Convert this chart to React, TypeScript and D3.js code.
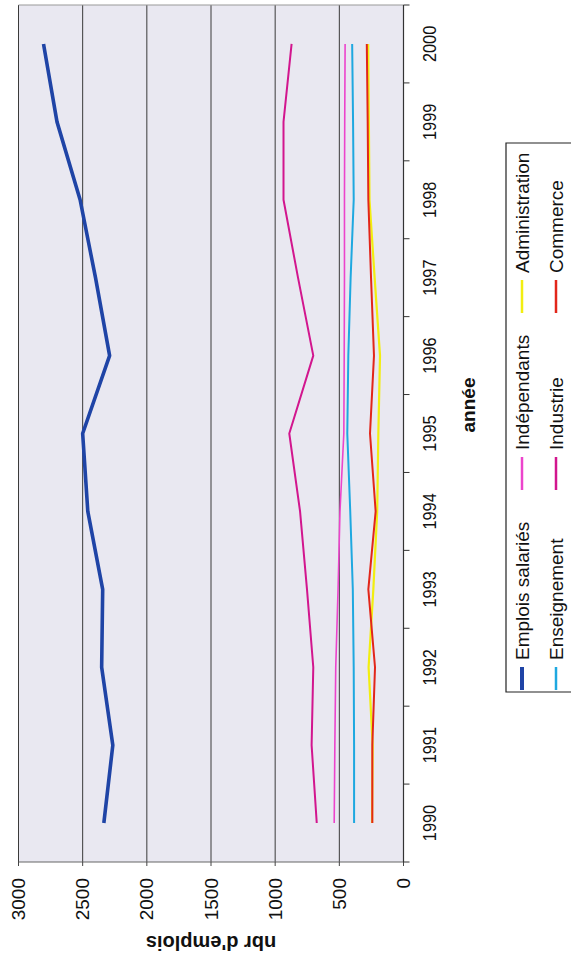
import React from "react";
import * as d3 from "d3";

// Employment by sector, 1990-2000
const years = [1990, 1991, 1992, 1993, 1994, 1995, 1996, 1997, 1998, 1999, 2000];
const emploisSalaries = [2335, 2265, 2352, 2344, 2460, 2500, 2290, 2400, 2520, 2700, 2805];
const independants = [540, 535, 528, 510, 495, 465, 462, 460, 460, 458, 455];
const administration = [245, 240, 272, 235, 205, 196, 183, 225, 265, 270, 275];
const enseignement = [385, 385, 388, 395, 415, 438, 430, 412, 388, 393, 400];
const industrie = [676, 716, 703, 752, 806, 890, 703, 822, 935, 935, 872];
const commerce = [243, 243, 222, 274, 217, 261, 230, 253, 274, 279, 286];
const valueTicks = [0, 500, 1000, 1500, 2000, 2500, 3000];

const seriesNames = [
  "Emplois salariés",
  "Indépendants",
  "Administration",
  "Enseignement",
  "Industrie",
  "Commerce",
];
const seriesValues = [emploisSalaries, independants, administration, enseignement, industrie, commerce];
const seriesColors = ["#1f44a6", "#ec44cc", "#f2ee10", "#1ea8e0", "#d2168e", "#e2261a"];
const seriesWidths = [3.6, 1.6, 2.2, 2, 2, 2];

// legend layout: three columns, two rows (row-major order)
const legendRows = [0, 0, 0, 1, 1, 1];
const legendCols = [0, 1, 2, 0, 1, 2];

const W = 571;
const H = 957;
const font = "'Liberation Sans', Arial, Helvetica, sans-serif";

export default function App() {
  // Chart is laid out in a landscape frame (width = H, height = W) and turned a quarter turn.
  const plotLeft = 95;
  const plotRight = 952;
  const plotTop = 18.5;
  const plotBottom = 403.5;

  const x = d3.scaleBand<number>().domain(years).range([plotLeft, plotRight]).paddingInner(0).paddingOuter(0);
  const cx = (yr: number) => (x(yr) as number) + x.bandwidth() / 2;
  const y = d3.scaleLinear().domain([0, 3000]).range([plotBottom, plotTop]);

  const line = d3
    .line<number>()
    .x((_, i) => cx(years[i]))
    .y((v) => y(v));

  const boundaries = d3.range(years.length + 1).map((k) => plotLeft + k * x.step());

  const legendX0 = 265;
  const legendX1 = 814;
  const legendY0 = 506;
  const colX = [267, 467, 644];
  const markerLen = [23, 33, 33];
  const rowY = [522, 556];

  return (
    <div style={{ position: "absolute", left: 0, top: 0 }}>
      <svg width={W} height={H} style={{ display: "block", background: "#ffffff" }}>
        <g transform={`translate(0,${H}) rotate(-90)`} fontFamily={font}>
          {/* plot area */}
          <rect x={plotLeft} y={plotTop} width={plotRight - plotLeft} height={plotBottom - plotTop} fill="#e9e8f1" />
          {valueTicks.map((v) => (
            <line
              key={"g" + v}
              x1={plotLeft}
              x2={plotRight}
              y1={y(v)}
              y2={y(v)}
              stroke={v === 0 ? "#555" : "#3a3a3a"}
              strokeWidth={1}
            />
          ))}
          <line x1={plotLeft} x2={plotLeft} y1={plotTop} y2={plotBottom} stroke="#666" strokeWidth={1.2} />
          <line x1={plotRight} x2={plotRight} y1={plotTop} y2={plotBottom} stroke="#999" strokeWidth={1} />

          {/* value axis ticks and labels */}
          {valueTicks.map((v) => (
            <g key={"t" + v}>
              <line x1={plotLeft - 4} x2={plotLeft} y1={y(v)} y2={y(v)} stroke="#444" />
              <text x={79} y={y(v)} textAnchor="end" dominantBaseline="central" fontSize={19} fill="#111">
                {v}
              </text>
            </g>
          ))}
          <text
            transform={`translate(14,${(plotTop + plotBottom) / 2}) rotate(-90)`}
            textAnchor="middle"
            dominantBaseline="central"
            fontSize={20}
            fontWeight="bold"
            fill="#111"
          >
            nbr d'emplois
          </text>

          {/* category axis */}
          <line x1={plotLeft} x2={plotRight} y1={plotBottom} y2={plotBottom} stroke="#333" strokeWidth={1.2} />
          {boundaries.map((b, i) => (
            <line key={"b" + i} x1={b} x2={b} y1={plotBottom} y2={plotBottom + 6} stroke="#333" />
          ))}
          {years.map((yr) => (
            <text
              key={"y" + yr}
              transform={`translate(${cx(yr)},430) scale(0.86,1)`}
              textAnchor="middle"
              dominantBaseline="central"
              fontSize={19}
              fill="#111"
            >
              {yr}
            </text>
          ))}
          <text x={552} y={468} textAnchor="middle" dominantBaseline="central" fontSize={19} fontWeight="bold" fill="#111">
            année
          </text>

          {/* series */}
          {seriesValues.map((vals, i) => (
            <path
              key={"s" + i}
              d={line(vals) || ""}
              fill="none"
              stroke={seriesColors[i]}
              strokeWidth={seriesWidths[i]}
              strokeLinejoin="round"
            />
          ))}

          {/* legend */}
          <path
            d={`M${legendX1},${W + 2} L${legendX1},${legendY0} L${legendX0},${legendY0} L${legendX0},${W + 2}`}
            fill="#fff"
            stroke="#222"
            strokeWidth={1.2}
          />
          {seriesNames.map((name, i) => {
            const c = legendCols[i];
            const r = legendRows[i];
            const mx = colX[c];
            return (
              <g key={"l" + i}>
                <line
                  x1={mx}
                  x2={mx + markerLen[c]}
                  y1={rowY[r]}
                  y2={rowY[r]}
                  stroke={seriesColors[i]}
                  strokeWidth={i === 0 ? 4 : 2.5}
                />
                <text
                  x={mx + markerLen[c] + 7}
                  y={rowY[r]}
                  dominantBaseline="central"
                  fontSize={19}
                  fill="#111"
                >
                  {name}
                </text>
              </g>
            );
          })}
        </g>
      </svg>
    </div>
  );
}
